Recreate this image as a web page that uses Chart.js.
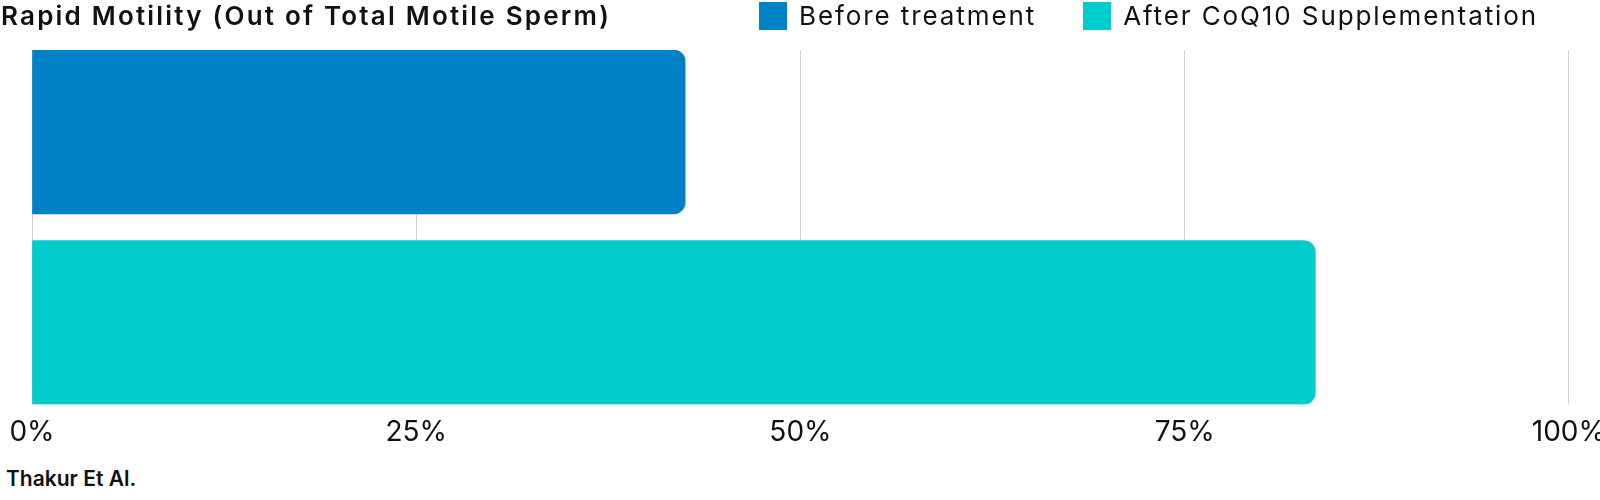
<!DOCTYPE html>
<html>
<head>
<meta charset="utf-8">
<script src="https://cdn.jsdelivr.net/npm/chart.js@4"></script>
<style>
  body { margin: 0; background: #fff; }
  #quadro { position: relative; width: 1600px; height: 500px; overflow: hidden; font-family: Inter, sans-serif; color: #111; }
  #titulo { position: absolute; left: 1px; top: 0; font-size: 26px; font-weight: 600; line-height: 32px; letter-spacing: 2.2px; white-space: nowrap; }
  #legenda { position: absolute; right: 62px; top: 2px; display: flex; align-items: center; }
  #legenda .item { display: flex; align-items: center; margin-left: 47px; }
  #legenda .caixa { width: 28px; height: 28px; margin-right: 12px; }
  #legenda .texto { font-size: 26px; line-height: 28px; white-space: nowrap; letter-spacing: 1.9px; }
  #area { position: absolute; left: 0; top: 0; width: 1606px; height: 449px; }
  #fonte { position: absolute; left: 6px; top: 467px; font-size: 21px; font-weight: 600; line-height: 24px; }
</style>
</head>
<body>
<div id="quadro">
  <div id="area"><canvas id="meuGrafico"></canvas></div>
  <div id="titulo">Rapid Motility (Out of Total Motile Sperm)</div>
  <div id="legenda"></div>
  <div id="fonte">Thakur Et Al.</div>
</div>
<script>
const categorias = ["Before treatment", "After CoQ10 Supplementation"];
const valores = [42.5, 83.5];
const ticksX = [0, 25, 50, 75, 100];
const rotulosX = ["0%", "25%", "50%", "75%", "100%"];

const cores = ["#0080C6", "#00CCCC"];

const ctx = document.getElementById("meuGrafico").getContext("2d");

// one dataset per group so the legend gets two entries
const datasets = categorias.map((nome, i) => ({
    label: nome,
    data: [{ x: valores[i], y: i }],
    backgroundColor: cores[i],
    borderWidth: 0,
    borderRadius: 12,
    borderSkipped: "start",
    barThickness: 164,
    grouped: false
}));

const grafico = new Chart(ctx, {
    type: "bar",
    data: { datasets },
    options: {
        indexAxis: "y",
        responsive: true,
        maintainAspectRatio: false,
        animation: false,
        layout: { padding: { top: 50, left: 32, right: 32, bottom: 0 } },
        scales: {
            x: {
                type: "linear",
                min: ticksX[0],
                max: ticksX[ticksX.length - 1],
                afterBuildTicks: (axis) => { axis.ticks = ticksX.map(v => ({ value: v })); },
                ticks: {
                    padding: 0,
                    color: "#111",
                    font: { family: "Inter", size: 28 },
                    callback: (v, i) => rotulosX[i]
                },
                grid: {
                    color: "#d2d2d2",
                    lineWidth: 1,
                    drawTicks: true,
                    tickLength: 11,
                    tickColor: "rgba(0,0,0,0)"
                },
                border: { display: false }
            },
            y: {
                type: "linear",
                display: false,
                offset: false,
                reverse: true,
                min: -0.43,
                max: 1.43
            }
        },
        plugins: {
            legend: { display: false },
            tooltip: { enabled: false }
        }
    }
});

// legenda em HTML, montada a partir dos itens do próprio Chart.js
const itens = grafico.options.plugins.legend.labels.generateLabels(grafico);
const legenda = document.getElementById("legenda");
itens.forEach(it => {
    const el = document.createElement("div");
    el.className = "item";
    const caixa = document.createElement("span");
    caixa.className = "caixa";
    caixa.style.background = it.fillStyle;
    const texto = document.createElement("span");
    texto.className = "texto";
    texto.textContent = it.text;
    el.appendChild(caixa);
    el.appendChild(texto);
    legenda.appendChild(el);
});
</script>
</body>
</html>
